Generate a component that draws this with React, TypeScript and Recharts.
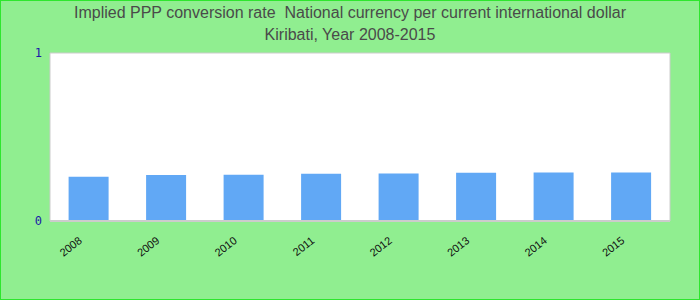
import React from 'react';
import { BarChart, Bar, XAxis, YAxis, ReferenceArea } from 'recharts';

const years = ['2008', '2009', '2010', '2011', '2012', '2013', '2014', '2015'];
const pppRate = [0.263, 0.274, 0.276, 0.281, 0.282, 0.287, 0.288, 0.288];

const titleLines = [
  'Implied PPP conversion rate  National currency per current international dollar',
  'Kiribati, Year 2008-2015'
];

const data = years.map((year, i) => ({ year, value: pppRate[i] }));

const YearTick = (props: any) => {
  const { x, y, payload } = props;
  const tx = x - 6;
  const ty = y + 13;
  return (
    <text
      x={tx}
      y={ty}
      transform={`rotate(-38, ${tx}, ${ty})`}
      textAnchor="end"
      fontSize={11}
      fontFamily="Liberation Sans, Arial, sans-serif"
      fill="#111"
    >
      {payload.value}
    </text>
  );
};

const App: React.FC = () => {
  return (
    <div style={{
      position: 'absolute',
      left: 0,
      top: 0,
      width: 700,
      height: 300,
      boxSizing: 'border-box',
      border: '1px solid #2ee62e',
      background: '#90ee90',
      overflow: 'hidden'
    }}>
      {titleLines.map((line, i) => (
        <div key={i} style={{
          position: 'absolute',
          left: 0,
          width: 698,
          top: i === 0 ? 2 : 24,
          textAlign: 'center',
          whiteSpace: 'pre',
          fontFamily: 'Liberation Sans, Arial, sans-serif',
          fontSize: 16,
          lineHeight: '20px',
          color: '#4a4a4a'
        }}>
          {line}
        </div>
      ))}
      <div style={{ position: 'absolute', left: 0, top: 0 }}>
        <BarChart
          width={698}
          height={298}
          data={data}
          margin={{ top: 52, right: 29, left: 19, bottom: 48 }}
          barCategoryGap="24%"
        >
          <XAxis
            dataKey="year"
            height={30}
            axisLine={{ stroke: '#cccccc', strokeWidth: 2 }}
            tickLine={false}
            tick={<YearTick />}
            interval={0}
          />
          <YAxis
            width={30}
            domain={[0, 1]}
            ticks={[0, 1]}
            axisLine={false}
            tickLine={false}
            tick={{ fill: '#1a1aa8', fontSize: 12, fontFamily: 'DejaVu Sans Mono, monospace' }}
          />
          <ReferenceArea
            y1={0}
            y2={1}
            fill="#ffffff"
            fillOpacity={1}
            stroke="#cccccc"
            strokeWidth={1}
            ifOverflow="visible"
          />
          <Bar dataKey="value" fill="#61a8f5" isAnimationActive={false} />
        </BarChart>
      </div>
    </div>
  );
};

export default App;
